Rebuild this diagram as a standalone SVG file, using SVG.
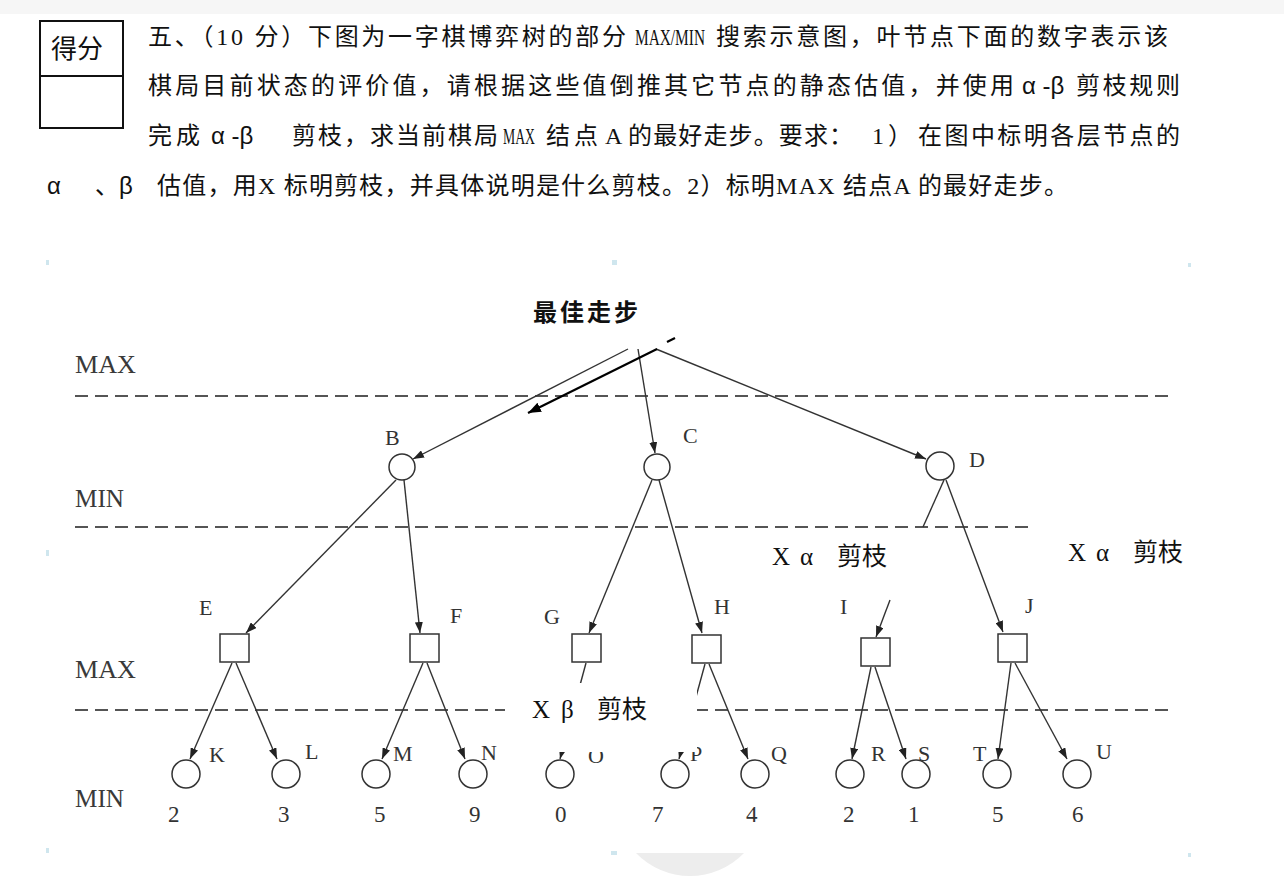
<svg xmlns="http://www.w3.org/2000/svg" width="1284" height="885" viewBox="0 0 1284 885">
<style>
.hdr{font-family:"Liberation Serif","Noto Sans CJK SC",serif;font-size:24px;fill:#111}
.gr{font-family:"Liberation Sans","Noto Sans CJK SC",sans-serif}
.lvl{font-family:"Liberation Serif",serif;font-size:25px;fill:#3a3a3a}
.lbl{font-family:"Liberation Serif",serif;font-size:22px;fill:#333}
.val{font-family:"Liberation Serif",serif;font-size:23px;fill:#333}
.note{font-family:"Liberation Serif","Noto Sans CJK SC",serif;font-size:25px;fill:#111}
.edge{stroke:#333;stroke-width:1.4;fill:none}
.dash{stroke:#555;stroke-width:2;stroke-dasharray:13 7;fill:none}
.node{stroke:#333;stroke-width:1.5;fill:#fff}
</style>
<defs>
<marker id="ah" markerUnits="userSpaceOnUse" markerWidth="12" markerHeight="8" refX="11" refY="4" orient="auto">
<path d="M0,0 L11,4 L0,8 z" fill="#222"/>
</marker>
<marker id="ahb" markerUnits="userSpaceOnUse" markerWidth="14" markerHeight="10" refX="13" refY="5" orient="auto">
<path d="M0,0 L13,5 L0,10 z" fill="#000"/>
</marker>
</defs>
<rect width="1284" height="885" fill="#fff"/>
<rect width="1284" height="14" fill="#f6f6f6"/>

<g id="header">
<rect x="40" y="21" width="83" height="107" fill="none" stroke="#111" stroke-width="2"/>
<line x1="40" y1="76" x2="123" y2="76" stroke="#111" stroke-width="2"/>
<text x="51" y="58" font-family="Noto Sans CJK SC, sans-serif" font-size="26" fill="#111">得分</text>
<text class="hdr" x="148" y="45" textLength="478" lengthAdjust="spacing">五、（10 分）下图为一字棋博弈树的部分</text>
<text class="hdr" x="635" y="45" textLength="70" lengthAdjust="spacingAndGlyphs">MAX/MIN</text>
<text class="hdr" x="716" y="45" textLength="452" lengthAdjust="spacing">搜索示意图，叶节点下面的数字表示该</text>
<text class="hdr" x="148" y="94" textLength="866" lengthAdjust="spacing">棋局目前状态的评价值，请根据这些值倒推其它节点的静态估值，并使用</text>
<text class="hdr gr" x="1022" y="94">α -β</text>
<text class="hdr" x="1076" y="94" textLength="104" lengthAdjust="spacing">剪枝规则</text>
<text class="hdr" x="148" y="144" textLength="52" lengthAdjust="spacing">完成</text>
<text class="hdr gr" x="211" y="144">α -β</text>
<text class="hdr" x="292" y="144" textLength="206" lengthAdjust="spacing">剪枝，求当前棋局</text>
<text class="hdr" x="503" y="144" textLength="32" lengthAdjust="spacingAndGlyphs">MAX</text>
<text class="hdr" x="546" y="144" textLength="52" lengthAdjust="spacing">结点</text>
<text class="hdr" x="605" y="144">A</text>
<text class="hdr" x="628" y="144" textLength="225" lengthAdjust="spacing">的最好走步。要求：</text>
<text class="hdr" x="872" y="144" textLength="40" lengthAdjust="spacing">1）</text>
<text class="hdr" x="918" y="144" textLength="262" lengthAdjust="spacing">在图中标明各层节点的</text>
<text class="hdr gr" x="47" y="194">α</text>
<text class="hdr gr" x="95" y="194">、β</text>
<text class="hdr" x="157" y="194" textLength="911" lengthAdjust="spacing">估值，用X 标明剪枝，并具体说明是什么剪枝。2）标明MAX 结点A 的最好走步。</text>
</g>

<g id="specks" fill="#cfe6ee">
<rect x="46" y="260" width="3" height="5"/>
<rect x="612" y="260" width="5" height="5"/>
<rect x="1188" y="263" width="3" height="4"/>
<rect x="46" y="550" width="3" height="6"/>
<rect x="46" y="848" width="3" height="5"/>
<rect x="611" y="851" width="6" height="4"/>
<rect x="1188" y="853" width="3" height="4"/>
</g>
<path id="shade" d="M636,853 L744,853 A75,75 0 0 1 636,853 Z" fill="#ededed"/>

<g id="levels">
<text class="lvl" x="75" y="373" textLength="61" lengthAdjust="spacingAndGlyphs">MAX</text>
<text class="lvl" x="75" y="507" textLength="49" lengthAdjust="spacingAndGlyphs">MIN</text>
<text class="lvl" x="75" y="678" textLength="61" lengthAdjust="spacingAndGlyphs">MAX</text>
<text class="lvl" x="75" y="807" textLength="49" lengthAdjust="spacingAndGlyphs">MIN</text>
<line class="dash" x1="75" y1="396" x2="1175" y2="396"/>
<line class="dash" x1="75" y1="527" x2="1034" y2="527"/>
<line class="dash" x1="75" y1="710" x2="1175" y2="710"/>
</g>

<g id="connectors">
<line class="edge" x1="628" y1="349" x2="413" y2="459" marker-end="url(#ah)"/>
<line class="edge" x1="638" y1="349" x2="655" y2="453" marker-end="url(#ah)"/>
<line class="edge" x1="656" y1="349" x2="926" y2="459" marker-end="url(#ah)"/>
<line class="edge" x1="396" y1="480" x2="246" y2="633" marker-end="url(#ah)"/>
<line class="edge" x1="404" y1="480" x2="420" y2="633" marker-end="url(#ah)"/>
<line class="edge" x1="652" y1="480" x2="589" y2="633" marker-end="url(#ah)"/>
<line class="edge" x1="659" y1="480" x2="702" y2="633" marker-end="url(#ah)"/>
<polyline class="edge" points="944,480 923,527"/>
<line class="edge" x1="946" y1="480" x2="1003" y2="632" marker-end="url(#ah)"/>
<line class="edge" x1="890" y1="600" x2="876" y2="637" marker-end="url(#ah)"/>
<line class="edge" x1="232" y1="663" x2="190" y2="759" marker-end="url(#ah)"/>
<line class="edge" x1="236" y1="663" x2="277" y2="759" marker-end="url(#ah)"/>
<line class="edge" x1="423" y1="663" x2="382" y2="759" marker-end="url(#ah)"/>
<line class="edge" x1="427" y1="663" x2="465" y2="759" marker-end="url(#ah)"/>
<line class="edge" x1="586" y1="663" x2="560" y2="759" marker-end="url(#ah)"/>
<line class="edge" x1="705" y1="664" x2="679" y2="759" marker-end="url(#ah)"/>
<line class="edge" x1="709" y1="664" x2="748" y2="759" marker-end="url(#ah)"/>
<line class="edge" x1="871" y1="667" x2="852" y2="759" marker-end="url(#ah)"/>
<line class="edge" x1="875" y1="667" x2="906" y2="759" marker-end="url(#ah)"/>
<line class="edge" x1="1011" y1="663" x2="998" y2="759" marker-end="url(#ah)"/>
<line class="edge" x1="1015" y1="663" x2="1067" y2="759" marker-end="url(#ah)"/>
<line x1="657" y1="349" x2="528" y2="413" stroke="#000" stroke-width="2.2" marker-end="url(#ahb)"/>
<line x1="667" y1="342" x2="675" y2="338" stroke="#000" stroke-width="2.2"/>
</g>

<g id="nB"><circle class="node" cx="402" cy="467" r="13"/><text class="lbl" x="385" y="445">B</text></g>
<g id="nC"><circle class="node" cx="657" cy="467" r="13"/><text class="lbl" x="683" y="443">C</text></g>
<g id="nD"><circle class="node" cx="940" cy="466" r="14"/><text class="lbl" x="969" y="467">D</text></g>
<g id="nE"><rect class="node" x="220" y="634" width="29" height="28"/><text class="lbl" x="199" y="615">E</text></g>
<g id="nF"><rect class="node" x="410" y="634" width="29" height="28"/><text class="lbl" x="450" y="623">F</text></g>
<g id="nG"><rect class="node" x="572" y="634" width="29" height="28"/><text class="lbl" x="544" y="624">G</text></g>
<g id="nH"><rect class="node" x="692" y="635" width="29" height="28"/><text class="lbl" x="714" y="614">H</text></g>
<g id="nI"><rect class="node" x="861" y="638" width="29" height="28"/><text class="lbl" x="840" y="614">I</text></g>
<g id="nJ"><rect class="node" x="998" y="634" width="29" height="28"/><text class="lbl" x="1025" y="613">J</text></g>

<g id="nK"><circle class="node" cx="186" cy="774" r="14"/><text class="lbl" x="209" y="762">K</text><text class="val" x="168" y="822">2</text></g>
<g id="nL"><circle class="node" cx="286" cy="774" r="14"/><text class="lbl" x="305" y="759">L</text><text class="val" x="278" y="822">3</text></g>
<g id="nM"><circle class="node" cx="376" cy="774" r="14"/><text class="lbl" x="393" y="761">M</text><text class="val" x="374" y="822">5</text></g>
<g id="nN"><circle class="node" cx="473" cy="774" r="14"/><text class="lbl" x="481" y="760">N</text><text class="val" x="469" y="822">9</text></g>
<g id="nO"><circle class="node" cx="560" cy="774" r="14"/><text class="lbl" x="588" y="763">O</text><text class="val" x="555" y="822">0</text></g>
<g id="nP"><circle class="node" cx="675" cy="774" r="14"/><text class="lbl" x="690" y="761">P</text><text class="val" x="652" y="822">7</text></g>
<g id="nQ"><circle class="node" cx="755" cy="774" r="14"/><text class="lbl" x="771" y="761">Q</text><text class="val" x="746" y="822">4</text></g>
<g id="nR"><circle class="node" cx="850" cy="774" r="14"/><text class="lbl" x="871" y="761">R</text><text class="val" x="843" y="822">2</text></g>
<g id="nS"><circle class="node" cx="916" cy="774" r="14"/><text class="lbl" x="918" y="761">S</text><text class="val" x="908" y="822">1</text></g>
<g id="nT"><circle class="node" cx="997" cy="774" r="14"/><text class="lbl" x="973" y="761">T</text><text class="val" x="992" y="822">5</text></g>
<g id="nU"><circle class="node" cx="1077" cy="774" r="14"/><text class="lbl" x="1096" y="759">U</text><text class="val" x="1072" y="822">6</text></g>

<g id="annotations">
<text x="533" y="321" font-family="Noto Sans CJK SC, sans-serif" font-size="24" font-weight="bold" fill="#111" textLength="105" lengthAdjust="spacing">最佳走步</text>
<text class="note" x="772" y="565">X</text>
<text class="note gr" x="800" y="565">α</text>
<text class="note" x="837" y="565">剪枝</text>
<text class="note" x="1068" y="561">X</text>
<text class="note gr" x="1096" y="561">α</text>
<text class="note" x="1133" y="561">剪枝</text>
<rect x="505" y="683" width="192" height="69" fill="#fff"/>
<text class="note" x="532" y="718">X</text>
<text class="note gr" x="561" y="718">β</text>
<text class="note" x="597" y="718">剪枝</text>
</g>
</svg>
